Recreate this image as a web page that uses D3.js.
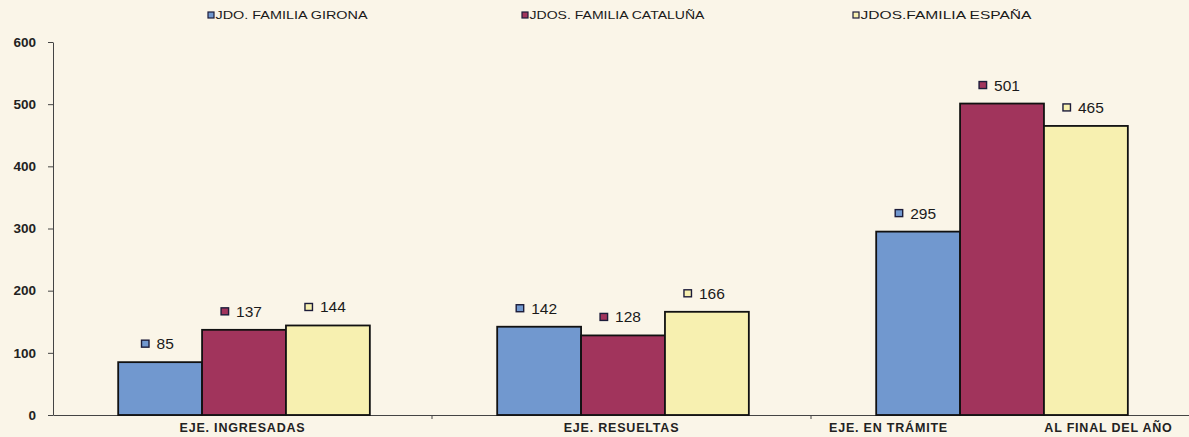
<!DOCTYPE html>
<html>
<head>
<meta charset="utf-8">
<script src="https://cdn.jsdelivr.net/npm/d3@7"></script>
<style>
  body { margin: 0; background: #faf5e8; }
  svg { display: block; font-family: "Liberation Sans", Arial, sans-serif; }
</style>
</head>
<body>
<script>
// data
const categories = ["EJE. INGRESADAS", "EJE. RESUELTAS", "EJE. EN TRÁMITE AL FINAL DEL AÑO"];
const seriesNames = ["JDO. FAMILIA GIRONA", "JDOS. FAMILIA CATALUÑA", "JDOS.FAMILIA ESPAÑA"];
const girona = [85, 142, 295];
const cataluna = [137, 128, 501];
const espana = [144, 166, 465];
const yTicks = [0, 100, 200, 300, 400, 500, 600];
const colors = ["#7198cf", "#a1345c", "#f7f0b0"];

const width = 1189;
const height = 437;
const seriesValues = [girona, cataluna, espana];

const svg = d3.select("body").append("svg")
  .attr("width", width)
  .attr("height", height);

svg.append("rect")
  .attr("width", width)
  .attr("height", height)
  .attr("fill", "#faf5e8");

const x = d3.scaleBand().domain(categories).range([53, 1190]).padding(0);
const x1 = d3.scaleBand().domain(seriesNames)
  .range([x.bandwidth() * 0.172, x.bandwidth() * 0.836]);
const y = d3.scaleLinear().domain([0, 600]).range([415, 42]);

// y axis
const yAxis = svg.append("g")
  .attr("transform", "translate(53,0)")
  .call(d3.axisLeft(y).tickValues(yTicks).tickSize(5).tickPadding(12).tickSizeOuter(0));
yAxis.select(".domain").attr("stroke", "#444");
yAxis.selectAll(".tick line").attr("stroke", "#444");
yAxis.selectAll(".tick text")
  .attr("fill", "#222")
  .style("font-size", "13.5px")
  .style("font-weight", "bold")
  .style("font-family", "Liberation Sans, Arial, sans-serif");

// x axis
const xAxis = svg.append("g")
  .attr("transform", "translate(0,415)")
  .call(d3.axisBottom(x).tickSize(0).tickPadding(8).tickSizeOuter(0));
xAxis.select(".domain").attr("stroke", "#444");
xAxis.selectAll(".tick text")
  .attr("fill", "#222")
  .style("font-size", "12.5px")
  .style("font-weight", "bold")
  .style("letter-spacing", "0.8px")
  .style("font-family", "Liberation Sans, Arial, sans-serif");

// the last category is printed in two pieces across its band
xAxis.selectAll(".tick text")
  .filter(d => d === categories[2])
  .text(null)
  .call(t => {
    t.append("tspan").attr("x", -112).text("EJE. EN TRÁMITE");
    t.append("tspan").attr("x", 108).text("AL FINAL DEL AÑO");
  });

// boundary ticks between categories
xAxis.selectAll(".sep")
  .data(categories.slice(1))
  .join("line")
  .attr("class", "sep")
  .attr("x1", d => x(d))
  .attr("x2", d => x(d))
  .attr("y1", 0)
  .attr("y2", 4)
  .attr("stroke", "#444");

// bars
const groups = svg.selectAll(".grp")
  .data(categories)
  .join("g")
  .attr("class", "grp")
  .attr("transform", d => `translate(${x(d)},0)`);

const cells = groups.selectAll(".cell")
  .data((c, ci) => seriesNames.map((s, si) => ({ s, si, v: seriesValues[si][ci] })))
  .join("g")
  .attr("class", "cell");

cells.append("rect")
  .attr("x", d => x1(d.s))
  .attr("y", d => y(d.v))
  .attr("width", x1.bandwidth())
  .attr("height", d => y(0) - y(d.v))
  .attr("fill", d => colors[d.si])
  .attr("stroke", "#111")
  .attr("stroke-width", 1.8);

// value labels: small marker + number, centred above the bar
const lab = cells.append("g")
  .attr("transform", d => `translate(${x1(d.s) + x1.bandwidth() / 2},${y(d.v) - 13})`);

lab.append("text")
  .attr("x", 5)
  .attr("text-anchor", "middle")
  .attr("font-size", "15.5px")
  .attr("fill", "#1a1a1a")
  .text(d => d.v);

lab.each(function (d) {
  const g = d3.select(this);
  const w = g.select("text").node().getComputedTextLength();
  g.append("rect")
    .attr("x", 5 - w / 2 - 15)
    .attr("y", -9)
    .attr("width", 7.5)
    .attr("height", 7)
    .attr("fill", colors[d.si])
    .attr("stroke", "#1c1c3a")
    .attr("stroke-width", 1.4);
});

// legend
const legendX = [208, 522, 853];
const legendW = [152, 175, 171];
const legend = svg.selectAll(".leg")
  .data(seriesNames)
  .join("g")
  .attr("class", "leg")
  .attr("transform", (d, i) => `translate(${legendX[i]},0)`);

legend.append("rect")
  .attr("x", 0)
  .attr("y", 12)
  .attr("width", 6)
  .attr("height", 6)
  .attr("fill", (d, i) => colors[i])
  .attr("stroke", "#1c1c3a")
  .attr("stroke-width", 1.2);

legend.append("text")
  .attr("x", 7.5)
  .attr("y", 19)
  .attr("font-size", "10.5px")
  .attr("fill", "#1a1a1a")
  .attr("textLength", (d, i) => legendW[i])
  .attr("lengthAdjust", "spacingAndGlyphs")
  .text(d => d);
</script>
</body>
</html>
